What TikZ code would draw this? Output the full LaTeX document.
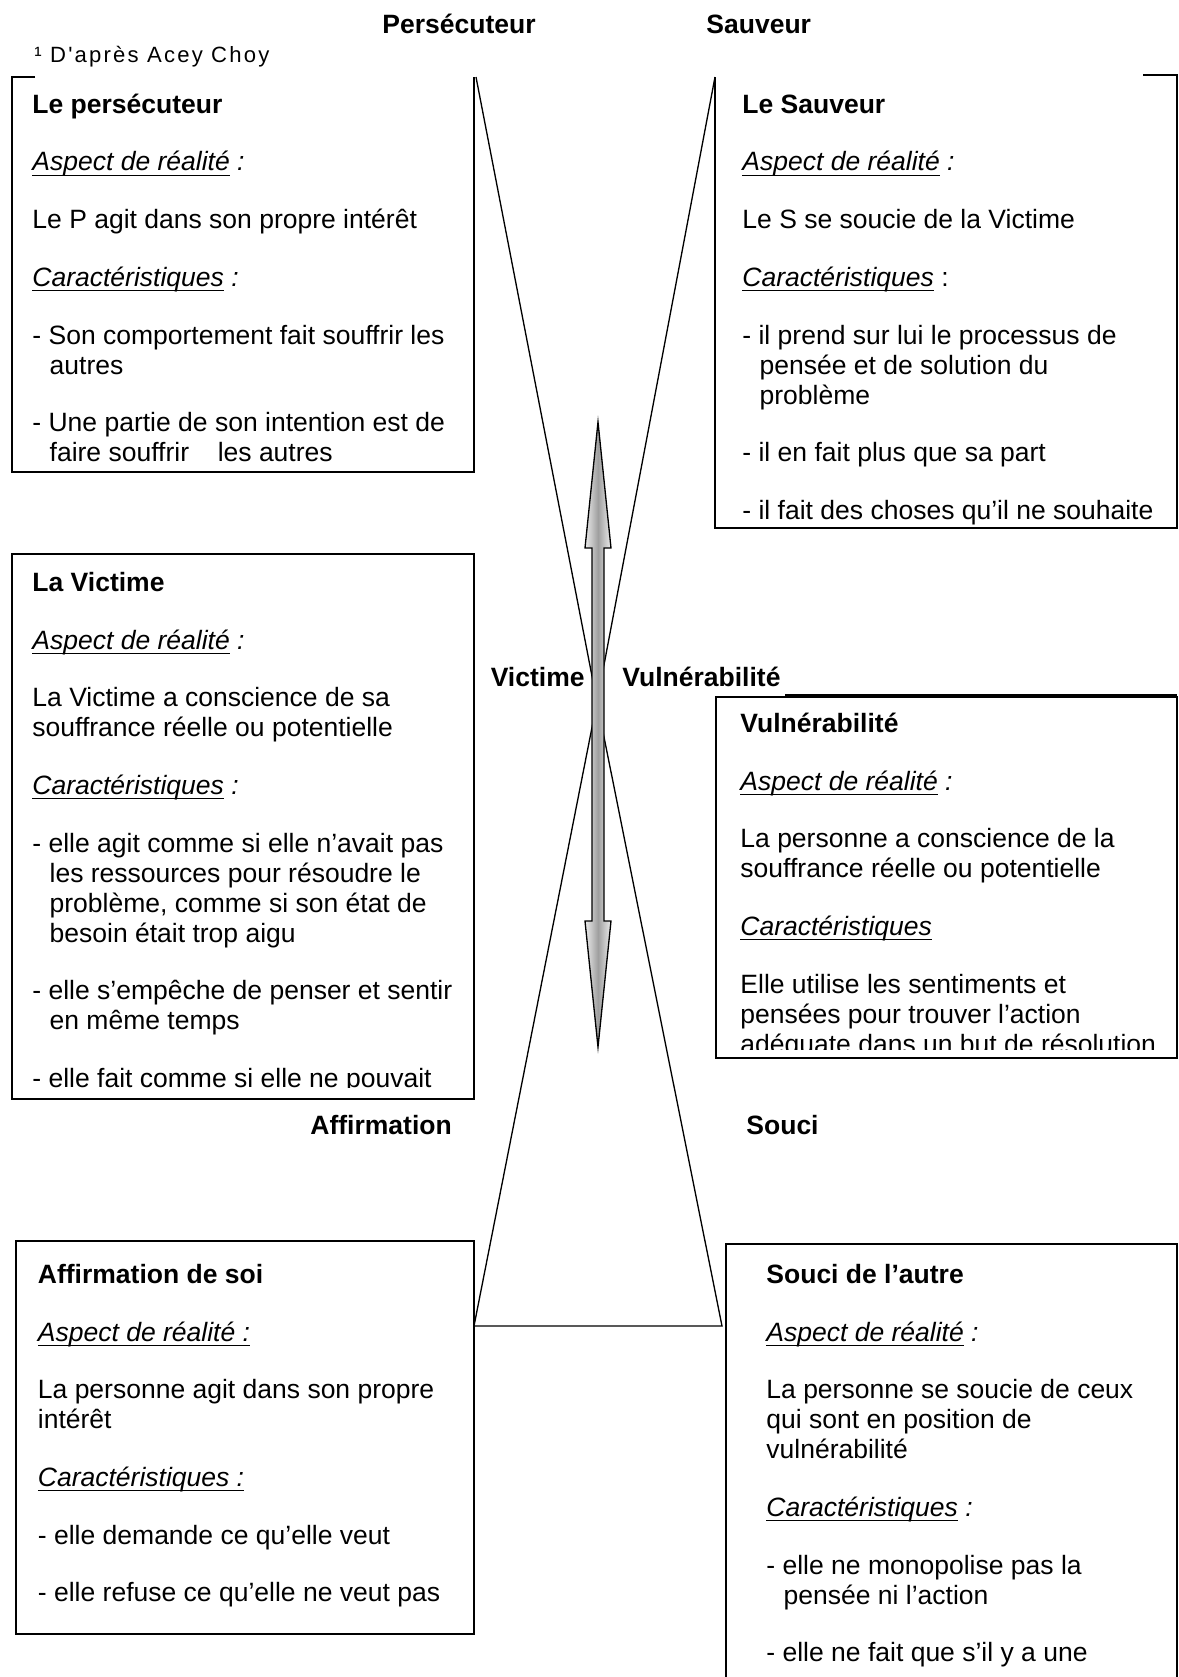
\documentclass[tikz,border=0pt]{standalone}
\usepackage{fontspec}
\setmainfont{Liberation Sans}
\newfontfamily\notefont[Ligatures=TeXOff,LetterSpace=10]{Liberation Sans}
\newcommand{\bodyfont}{\fontsize{12pt}{13.58pt}\selectfont}
\newsavebox{\myulbox}
\newcommand{\ulit}[1]{\sbox{\myulbox}{\textit{#1}}\rlap{\rule[-2.2pt]{\wd\myulbox}{0.55pt}}\usebox{\myulbox}}
\newcommand{\hang}{\hspace*{7.8pt}}
\newcommand{\fl}{\rule{0pt}{11pt}}
\newcommand{\pg}{\\[12.55pt]}
\begin{document}
\begin{tikzpicture}[x=0.4528pt,y=-0.4528pt,
  boxline/.style={line width=0.9pt, line join=miter},
  hline/.style={line width=0.6pt},
  txt/.style={anchor=north west, inner sep=0pt, align=left, font=\bodyfont},
  lab/.style={anchor=base west, inner sep=0pt, font=\bodyfont\bfseries},
  labr/.style={anchor=base east, inner sep=0pt, font=\bodyfont\bfseries}]
\useasboundingbox[fill=white] (0,0) rectangle (1179,1677);

% ---- top labels and note
\node[lab] (lP) at (382,33) {Persécuteur};
\node[lab] (lS) at (706,33) {Sauveur};
\node[anchor=base west, inner sep=0pt, font=\notefont\fontsize{10pt}{12pt}\selectfont] (fn) at (34,62) {¹ D'après Acey Choy};

% ---- box Persecuteur
\draw[boxline] (35,77) -- (12,77) -- (12,472) -- (474,472) -- (474,77);
\node[txt] (tP) at (32,88.5) {\fl\textbf{Le persécuteur}\pg
\ulit{Aspect de réalité}\textit{ :}\pg
Le P agit dans son propre intérêt\pg
\ulit{Caractéristiques}\textit{ :}\pg
- Son comportement fait souffrir les\\
\hang autres\pg
- Une partie de son intention est de\\
\hang faire souffrir\hspace{13pt}les autres};

% ---- box Sauveur
\draw[boxline] (1143,75) -- (1177,75) -- (1177,528) -- (715,528) -- (715,77);
\node[txt] (tS) at (742,88.5) {\fl\textbf{Le Sauveur}\pg
\ulit{Aspect de réalité}\textit{ :}\pg
Le S se soucie de la Victime\pg
\ulit{Caractéristiques} :\pg
- il prend sur lui le processus de\\
\hang pensée et de solution du\\
\hang problème\pg
- il en fait plus que sa part\pg
- il fait des choses qu’il ne souhaite};

% ---- box Victime
\draw[boxline] (12,554) rectangle (474,1099);
\begin{scope}
\clip (14,556) rectangle (472,1087);
\node[txt] (tV) at (32,566.7) {\fl\textbf{La Victime}\pg
\ulit{Aspect de réalité}\textit{ :}\pg
La Victime a conscience de sa\\
souffrance réelle ou potentielle\pg
\ulit{Caractéristiques}\textit{ :}\pg
- elle agit comme si elle n’avait pas\\
\hang les ressources pour résoudre le\\
\hang problème, comme si son état de\\
\hang besoin était trop aigu\pg
- elle s’empêche de penser et sentir\\
\hang en même temps\pg
- elle fait comme si elle ne pouvait};
\end{scope}

% ---- box Vulnerabilite
\draw[boxline] (716,697) rectangle (1177,1058);
\draw[line width=0.6pt] (785,695) -- (1177,695);
\begin{scope}
\clip (718,699) rectangle (1175,1049);
\node[txt] (tVu) at (740,707.7) {\fl\textbf{Vulnérabilité}\pg
\ulit{Aspect de réalité}\textit{ :}\pg
La personne a conscience de la\\
souffrance réelle ou potentielle\pg
\ulit{Caractéristiques}\pg
Elle utilise les sentiments et\\
pensées pour trouver l’action\\
adéquate dans un but de résolution};
\end{scope}

% ---- middle labels
\node[labr] (lV) at (585,686) {Victime};
\node[lab] (lVu) at (622,686) {Vulnérabilité};
\node[lab] (lA) at (310,1134) {Affirmation};
\node[lab] (lSo) at (746,1134) {Souci};

% ---- box Affirmation
\draw[boxline] (16,1241) rectangle (474,1634);
\node[txt] (tA) at (37.5,1258.7) {\fl\textbf{Affirmation de soi}\pg
\ulit{Aspect de réalité :}\pg
La personne agit dans son propre\\
intérêt\pg
\ulit{Caractéristiques :}\pg
- elle demande ce qu’elle veut\pg
- elle refuse ce qu’elle ne veut pas};

% ---- box Souci
\draw[boxline] (726,1690) -- (726,1244) -- (1177,1244) -- (1177,1690);
\node[txt] (tSo) at (766,1258.7) {\fl\textbf{Souci de l’autre}\pg
\ulit{Aspect de réalité}\textit{ :}\pg
La personne se soucie de ceux\\
qui sont en position de\\
vulnérabilité\pg
\ulit{Caractéristiques}\textit{ :}\pg
- elle ne monopolise pas la\\
\hang pensée ni l’action\pg
- elle ne fait que s’il y a une};

% ---- hourglass
\coordinate (TL) at (476,77);
\coordinate (TR) at (715,77);
\coordinate (AP) at (597,702);
\coordinate (BL) at (474,1326);
\coordinate (BR) at (722,1326);
\draw[hline] (TL) -- (AP) -- (TR);
\draw[hline] (AP) -- (BL) -- (BR) -- cycle;

% ---- double arrow
\shadedraw[draw=black, line width=0.6pt, left color=gray!15, right color=gray!15, middle color=gray!75]
 (598,422) -- (611,548) -- (604,548) -- (604,921) -- (611,921) -- (598,1047)
 -- (585,921) -- (592,921) -- (592,548) -- (585,548) -- cycle;
\end{tikzpicture}
\end{document}
